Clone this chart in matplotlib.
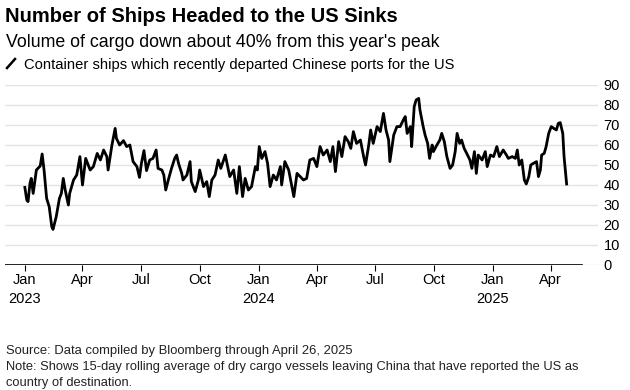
import matplotlib
matplotlib.use("Agg")
import matplotlib.pyplot as plt
import pandas as pd
from matplotlib.lines import Line2D

# ---------------- data ----------------
start_date = "2023-01-01"
# day offsets from start_date
day_offsets = [0, 3, 5, 8, 10, 13, 18, 24, 27, 30, 34, 38, 42, 44, 49, 54, 57, 60, 63, 68,
               70, 76, 81, 86, 90, 95, 102, 107, 113, 118, 123, 128, 130, 136, 141, 143, 148, 154, 159, 164,
               169, 175, 179, 182, 186, 190, 195, 200, 205, 208, 214, 217, 220, 224, 229, 234, 237, 240, 245, 247,
               253, 258, 260, 266, 271, 273, 279, 284, 288, 292, 297, 302, 306,
               313, 320, 326, 331, 335, 340, 344, 349, 354, 360, 363, 366, 370, 375, 379, 383, 388, 393, 399, 401,
               406, 412, 417, 420, 425, 430, 435, 440, 445, 451, 456, 461, 466, 472, 477, 481, 485, 490, 495, 500,
               505, 509, 513, 518, 524, 529, 532, 537, 540, 544, 550, 555, 560, 564, 568, 570, 576, 581,
               586, 591, 594, 597, 602, 604, 608, 611, 615, 617, 622, 625, 629, 632, 636, 638, 642, 648, 651, 655,
               659, 664, 668, 672, 675, 679, 682, 686, 690, 695, 698, 702, 705, 708, 714, 719, 722, 727, 732, 737,
               741, 747, 752, 755, 761, 766, 769, 772, 776, 780, 783, 787, 790, 794, 799, 802, 805, 807, 811, 814,
               818, 822, 826, 830, 833, 836, 840, 842, 846]
ships = [38.8, 32.5, 31.7, 40.8, 43.3, 35.8, 47.5, 49.5, 55.5, 47.5, 33.3, 29.2, 19.2, 17.8, 24.2, 33.3, 35.8, 43.3, 37.5, 30,
         35.8, 42.5, 45, 54.2, 40, 53.3, 47.5, 49.2, 55.8, 52.5, 57.5, 54.2, 47.5, 60, 68.3, 63.3, 60, 62.2, 59.2, 60,
         51.7, 49.2, 43.8, 50.8, 57.2, 47.2, 52.5, 53.3, 57.5, 48.3, 47.5, 45, 37.5, 42.5, 48.3, 53.3, 55, 50.8, 45.8, 42.5,
         45, 51.7, 41.7, 36.7, 42.5, 47.5, 39.2, 41.7, 34.2, 42.5, 45, 52.5, 48.3,
         55, 44.2, 47.5, 35.8, 49.2, 34.2, 43.3, 37.5, 39.2, 49.2, 47.5, 59.2, 53.3, 56.7, 50.8, 39.2, 45, 42.5, 49.2, 40,
         51.7, 47.5, 39.2, 34.2, 45.8, 44.2, 42.5, 43.3, 52.5, 53.3, 49.2, 59.2, 55, 57.5, 51.7, 59.2, 46.7, 61.7, 54.2, 64.2,
         61.7, 58.3, 66.7, 60.8, 62.5, 54.2, 50, 60, 67.5, 60.8, 69.2, 66.7, 75.8, 67.5, 62.5, 51.7, 65, 69.2,
         69.2, 72.5, 74.2, 65.8, 69.2, 59.2, 79.2, 82.5, 83.3, 77.5, 69.2, 65, 60.8, 53.3, 60, 56.7, 59.2, 62.5, 65.8, 61.7,
         54.2, 48.3, 50, 56.7, 65.8, 60.8, 62.5, 58.3, 55.8, 52.5, 48.3, 56.7, 45.8, 55, 52.5, 56.7, 49.2, 55, 54.2, 59.2,
         54.2, 57.5, 55, 53.3, 54.2, 53.3, 57.5, 50, 52.5, 42.5, 40.5, 44.2, 50, 50.8, 51.7, 44.2, 47.5, 55, 55.8, 59.2,
         65.8, 69.2, 68.3, 67.5, 70.8, 71.2, 65.8, 54.2, 40.5]
assert len(day_offsets) == len(ships)

x_tick_dates = ["2023-01-01", "2023-04-01", "2023-07-01", "2023-10-01",
                "2024-01-01", "2024-04-01", "2024-07-01", "2024-10-01",
                "2025-01-01", "2025-04-01"]
x_tick_labels = ["Jan\n2023", "Apr", "Jul", "Oct", "Jan\n2024", "Apr", "Jul", "Oct", "Jan\n2025", "Apr"]
y_ticks = [0, 10, 20, 30, 40, 50, 60, 70, 80, 90]

title = "Number of Ships Headed to the US Sinks"
subtitle = "Volume of cargo down about 40% from this year's peak"
legend_label = "Container ships which recently departed Chinese ports for the US"
source = "Source: Data compiled by Bloomberg through April 26, 2025"
note1 = "Note: Shows 15-day rolling average of dry cargo vessels leaving China that have reported the US as"
note2 = "country of destination."

# ---------------- plot ----------------
plt.rcParams["font.family"] = ["Liberation Sans", "DejaVu Sans"]
W, H = 630, 390
fig = plt.figure(figsize=(W / 100, H / 100), dpi=100)

def fx(px):
    return px / W

def fy(py):
    return 1 - py / H

left_px, right_px, top_px, bot_px = 5, 598, 85, 265
ax = fig.add_axes([fx(left_px), fy(bot_px), fx(right_px - left_px), (bot_px - top_px) / H])

dates = pd.Timestamp(start_date) + pd.to_timedelta(day_offsets, unit="D")
ax.plot(dates, ships, color="black", lw=2.0, solid_joinstyle="round", zorder=3)

ax.set_xlim(pd.Timestamp("2022-12-01"), pd.Timestamp("2025-06-14"))
ax.set_ylim(0, 90)

ax.set_yticks(y_ticks)
ax.yaxis.tick_right()
ax.tick_params(axis="y", length=0, pad=4, labelsize=10.5, labelcolor="black")
ax.grid(axis="y", color="#e3e3e3", lw=1)
ax.set_axisbelow(True)

ax.set_xticks(pd.to_datetime(x_tick_dates))
ax.set_xticklabels(x_tick_labels, linespacing=1.4)
ax.tick_params(axis="x", length=4, width=0.8, color="black", pad=2, labelsize=10.5)

for s in ax.spines.values():
    s.set_visible(False)
ax.axhline(0, xmin=0, xmax=(582 - left_px) / (right_px - left_px), color="black", lw=1.2, zorder=4)

# ---------------- texts ----------------
fig.canvas.draw()
renderer = fig.canvas.get_renderer()

def fit_text(x_px, base_px, s, width_px, size, **kw):
    t = fig.text(fx(x_px), fy(base_px), s, va="baseline", ha="left", fontsize=size, **kw)
    w = t.get_window_extent(renderer).width
    t.set_fontsize(size * width_px / w)
    return t

fit_text(5, 22, title, 395, 14, fontweight="bold", color="black")
fit_text(6, 47, subtitle, 436, 12, color="black")
fig.add_artist(Line2D([fx(7), fx(15)], [fy(68), fy(59)], color="black", lw=1.8))
fit_text(24, 69, legend_label, 428, 10, color="black")
fit_text(6, 354, source, 346, 9, color="#222222")
fit_text(6, 370, note1, 576, 9, color="#222222")
fig.text(fx(6), fy(386), note2, va="baseline", ha="left",
         fontsize=fig.texts[-1].get_fontsize(), color="#222222")

fig.savefig("out.png", dpi=100)
